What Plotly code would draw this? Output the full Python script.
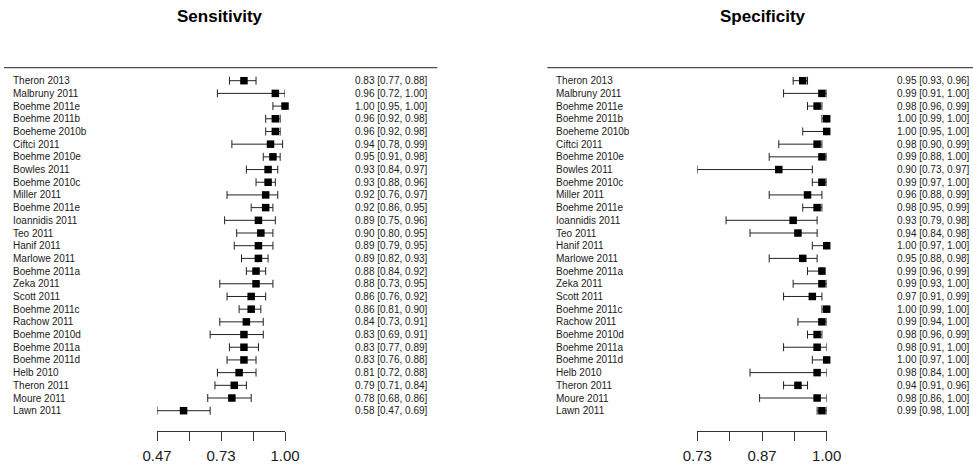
import plotly.graph_objects as go

studies = ["Theron 2013", "Malbruny 2011", "Boehme 2011e", "Boehme 2011b", "Boeheme 2010b",
           "Ciftci 2011", "Boehme 2010e", "Bowles 2011", "Boehme 2010c", "Miller 2011",
           "Boehme 2011e", "Ioannidis 2011", "Teo 2011", "Hanif 2011", "Marlowe 2011",
           "Boehme 2011a", "Zeka 2011", "Scott 2011", "Boehme 2011c", "Rachow 2011",
           "Boehme 2010d", "Boehme 2011a", "Boehme 2011d", "Helb 2010", "Theron 2011",
           "Moure 2011", "Lawn 2011"]

sens_est = [0.83, 0.96, 1.00, 0.96, 0.96, 0.94, 0.95, 0.93, 0.93, 0.92, 0.92, 0.89, 0.90, 0.89,
            0.89, 0.88, 0.88, 0.86, 0.86, 0.84, 0.83, 0.83, 0.83, 0.81, 0.79, 0.78, 0.58]
sens_lo = [0.77, 0.72, 0.95, 0.92, 0.92, 0.78, 0.91, 0.84, 0.88, 0.76, 0.86, 0.75, 0.80, 0.79,
           0.82, 0.84, 0.73, 0.76, 0.81, 0.73, 0.69, 0.77, 0.76, 0.72, 0.71, 0.68, 0.47]
sens_hi = [0.88, 1.00, 1.00, 0.98, 0.98, 0.99, 0.98, 0.97, 0.96, 0.97, 0.95, 0.96, 0.95, 0.95,
           0.93, 0.92, 0.95, 0.92, 0.90, 0.91, 0.91, 0.89, 0.88, 0.88, 0.84, 0.86, 0.69]

spec_est = [0.95, 0.99, 0.98, 1.00, 1.00, 0.98, 0.99, 0.90, 0.99, 0.96, 0.98, 0.93, 0.94, 1.00,
            0.95, 0.99, 0.99, 0.97, 1.00, 0.99, 0.98, 0.98, 1.00, 0.98, 0.94, 0.98, 0.99]
spec_lo = [0.93, 0.91, 0.96, 0.99, 0.95, 0.90, 0.88, 0.73, 0.97, 0.88, 0.95, 0.79, 0.84, 0.97,
           0.88, 0.96, 0.93, 0.91, 0.99, 0.94, 0.96, 0.91, 0.97, 0.84, 0.91, 0.86, 0.98]
spec_hi = [0.96, 1.00, 0.99, 1.00, 1.00, 0.99, 1.00, 0.97, 1.00, 0.99, 0.99, 0.98, 0.98, 1.00,
           0.98, 0.99, 1.00, 0.99, 1.00, 1.00, 0.99, 1.00, 1.00, 1.00, 0.96, 1.00, 1.00]

sens_ticks = [0.47, 0.6025, 0.735, 0.8675, 1.00]
sens_ticktext = ["0.47", "", "0.73", "", "1.00"]
spec_ticks = [0.73, 0.7975, 0.865, 0.9325, 1.00]
spec_ticktext = ["0.73", "", "0.87", "", "1.00"]

W, H = 973, 468
n = len(studies)
ypos = [n - 1 - i for i in range(n)]

def px(x):
    return x / W

def py(y):
    return (H - y) / H

# row geometry: first row at y=80.7px, last at 410.7px, axis at 430.7px, top at 60px
row_top_px, row_bot_px, axis_px, top_px = 80.7, 410.7, 430.7, 60.0
step = (row_bot_px - row_top_px) / (n - 1)
yr = [-(axis_px - row_bot_px) / step, (n - 1) + (row_top_px - top_px) / step]

fig = go.Figure()

txtcol = "#1a1a1a"
panels = [
    (sens_est, sens_lo, sens_hi, "x", "y"),
    (spec_est, spec_lo, spec_hi, "x2", "y2"),
]
for est, lo, hi, xa, ya in panels:
    fig.add_trace(go.Scatter(
        x=est, y=ypos, xaxis=xa, yaxis=ya, mode="markers",
        marker=dict(symbol="square", size=7.5, color="black"),
        error_x=dict(type="data", symmetric=False,
                     array=[h - e for e, h in zip(est, hi)],
                     arrayminus=[e - l for e, l in zip(est, lo)],
                     color="#222222", thickness=1, width=4),
        cliponaxis=False, showlegend=False, hoverinfo="skip"))

axis_common = dict(showgrid=False, zeroline=False, showline=True, linecolor="#333333",
                   linewidth=1, ticks="outside", ticklen=9, tickcolor="#333333",
                   tickfont=dict(family="Liberation Sans", size=15, color=txtcol),
                   ticklabelstandoff=2, fixedrange=True, automargin=False)

fig.update_layout(
    width=W, height=H, margin=dict(l=0, r=0, t=0, b=0, pad=0), autosize=False,
    paper_bgcolor="white", plot_bgcolor="white", hovermode=False,
    xaxis=dict(domain=[px(157), px(285)], range=[0.47, 1.00], anchor="y",
               tickvals=sens_ticks, ticktext=sens_ticktext, **axis_common),
    yaxis=dict(domain=[py(axis_px), py(top_px)], range=yr, visible=False, anchor="x"),
    xaxis2=dict(domain=[px(697.3), px(826.7)], range=[0.73, 1.00], anchor="y2",
                tickvals=spec_ticks, ticktext=spec_ticktext, **axis_common),
    yaxis2=dict(domain=[py(axis_px), py(top_px)], range=yr, visible=False, anchor="x2"),
)

ann = []
lab_font = dict(family="Liberation Sans", size=10, color=txtcol)
for i, s in enumerate(studies):
    ann.append(dict(x=px(11), y=ypos[i], xref="paper", yref="y", text=s, showarrow=False,
                    xanchor="left", yanchor="middle", font=lab_font))
    ann.append(dict(x=px(429.5), y=ypos[i], xref="paper", yref="y",
                    text=f"{sens_est[i]:.2f} [{sens_lo[i]:.2f}, {sens_hi[i]:.2f}]",
                    showarrow=False, xanchor="right", yanchor="middle", font=lab_font))
    ann.append(dict(x=px(554), y=ypos[i], xref="paper", yref="y2", text=s, showarrow=False,
                    xanchor="left", yanchor="middle", font=lab_font))
    ann.append(dict(x=px(971.5), y=ypos[i], xref="paper", yref="y2",
                    text=f"{spec_est[i]:.2f} [{spec_lo[i]:.2f}, {spec_hi[i]:.2f}]",
                    showarrow=False, xanchor="right", yanchor="middle", font=lab_font))

title_font = dict(family="Liberation Sans", size=17, color="black")
ann.append(dict(x=px(220), y=py(17), xref="paper", yref="paper", text="<b>Sensitivity</b>",
                showarrow=False, xanchor="center", yanchor="middle", font=title_font))
ann.append(dict(x=px(762.5), y=py(17), xref="paper", yref="paper", text="<b>Specificity</b>",
                showarrow=False, xanchor="center", yanchor="middle", font=title_font))
fig.update_layout(annotations=ann)

fig.update_layout(shapes=[
    dict(type="line", xref="paper", yref="paper", x0=px(4), x1=px(437.3),
         y0=py(67.7), y1=py(67.7), line=dict(color="#222222", width=1)),
    dict(type="line", xref="paper", yref="paper", x0=px(547.3), x1=1,
         y0=py(67.7), y1=py(67.7), line=dict(color="#222222", width=1)),
])

fig.write_html("out.html", config={"displayModeBar": False, "staticPlot": True},
               post_script="document.body.style.margin='0';document.body.style.overflow='hidden';")
